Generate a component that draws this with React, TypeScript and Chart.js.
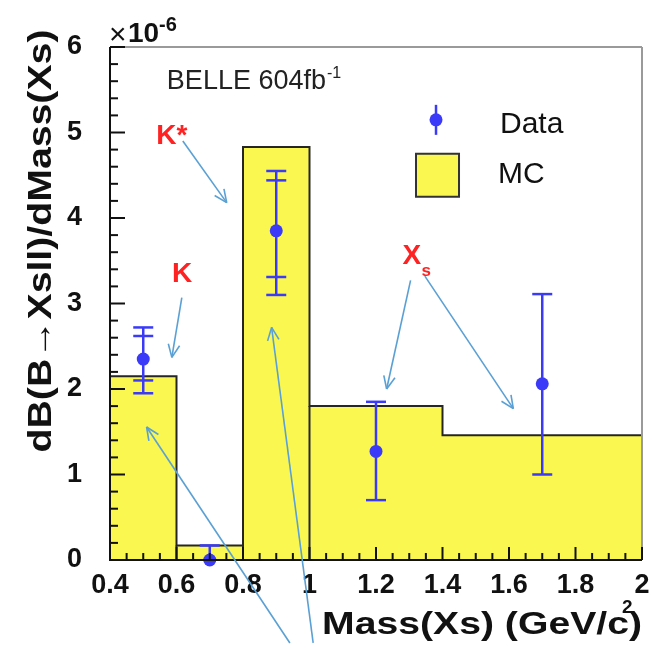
import React, { useEffect, useRef } from 'react';
import { Chart, registerables } from 'chart.js';

Chart.register(...registerables);

// Histogram (MC) bins: edges and bin contents, in units of 1e-6
const binEdges = [0.4, 0.6, 0.8, 1.0, 1.4, 2.0];
const mcValues = [2.15, 0.17, 4.83, 1.8, 1.46];
// bin edges whose vertical line is drawn all the way down to zero
const closedEdges = [0.6, 0.8, 1.0];

// Measured points with statistical (inner) and total (outer) errors
const dataX = [0.5, 0.7, 0.9, 1.2, 1.7];
const dataY = [2.35, 0.0, 3.85, 1.27, 2.06];
const statUp = [0.27, 0, 0.59, 0, 0];
const statDown = [0.25, 0, 0.54, 0, 0];
const totalUp = [0.37, 0.17, 0.7, 0.58, 1.05];
const totalDown = [0.4, 0, 0.75, 0.57, 1.06];

// Axis ticks
const xTicks = [0.4, 0.6, 0.8, 1.0, 1.2, 1.4, 1.6, 1.8, 2.0];
const xTickLabels = ['0.4', '0.6', '0.8', '1', '1.2', '1.4', '1.6', '1.8', '2'];
const yTicks = [0, 1, 2, 3, 4, 5, 6];
const yTickLabels = ['0', '1', '2', '3', '4', '5', '6'];

// Annotation labels (data coordinates) and arrows [x0, y0, x1, y1]
const noteLabels = [
  { text: 'K*', sub: '', x: 0.586, y: 4.96 },
  { text: 'K', sub: '', x: 0.617, y: 3.34 },
  { text: 'X', sub: 's', x: 1.308, y: 3.55 },
];
const noteArrows = [
  [0.619, 4.9, 0.751, 4.18],
  [0.616, 3.07, 0.586, 2.37],
  [1.304, 3.27, 1.232, 2.0],
  [1.347, 3.32, 1.613, 1.77],
  [0.941, -0.97, 0.51, 1.556],
  [1.011, -0.97, 0.886, 2.72],
];

const FONT = '"Liberation Sans", Arial, Helvetica, sans-serif';
const YELLOW = '#faf850';
const EDGE = '#262626';
const BLUE = '#3a3af8';
const ARROW = '#5aa0d4';
const RED = '#ff2222';

function histogramOutline() {
  const pts: { x: number; y: number }[] = [{ x: binEdges[0], y: 0 }];
  mcValues.forEach((v, i) => {
    pts.push({ x: binEdges[i], y: v });
    pts.push({ x: binEdges[i + 1], y: v });
  });
  pts.push({ x: binEdges[binEdges.length - 1], y: 0 });
  return pts;
}

function innerEdges() {
  const pts: { x: number; y: number | null }[] = [];
  closedEdges.forEach((e) => {
    const i = binEdges.indexOf(e);
    const h = Math.min(mcValues[i - 1], mcValues[i]);
    pts.push({ x: e, y: 0 }, { x: e, y: h }, { x: e, y: null });
  });
  return pts;
}

const rootStyle = {
  id: 'rootStyle',
  afterDatasetsDraw(chart: any) {
    const { ctx, chartArea: a } = chart;
    const xs = chart.scales.x;
    const ys = chart.scales.y;
    const px = (v: number) => xs.getPixelForValue(v);
    const py = (v: number) => ys.getPixelForValue(v);
    const seg = (x0: number, y0: number, x1: number, y1: number) => {
      ctx.beginPath();
      ctx.moveTo(x0, y0);
      ctx.lineTo(x1, y1);
      ctx.stroke();
    };
    ctx.save();

    // error bars
    ctx.strokeStyle = BLUE;
    ctx.lineWidth = 2.5;
    const cap = 10;
    dataX.forEach((xv, i) => {
      const cx = px(xv);
      const hi = dataY[i] + totalUp[i];
      const lo = Math.max(0, dataY[i] - totalDown[i]);
      seg(cx, py(hi), cx, py(lo));
      if (totalUp[i] > 0) seg(cx - cap, py(hi), cx + cap, py(hi));
      if (totalDown[i] > 0) seg(cx - cap, py(lo), cx + cap, py(lo));
      if (statUp[i] > 0) seg(cx - cap, py(dataY[i] + statUp[i]), cx + cap, py(dataY[i] + statUp[i]));
      if (statDown[i] > 0) seg(cx - cap, py(dataY[i] - statDown[i]), cx + cap, py(dataY[i] - statDown[i]));
    });

    // frame: grey top/right, black axes
    ctx.lineWidth = 2;
    ctx.strokeStyle = '#9a9a9a';
    seg(a.left, a.top, a.right, a.top);
    seg(a.right, a.top, a.right, a.bottom);
    ctx.strokeStyle = '#111';
    seg(a.left, a.top, a.left, a.bottom + 1);
    seg(a.left - 1, a.bottom, a.right, a.bottom);

    // inward ticks
    ctx.lineWidth = 2;
    for (let i = 0; i <= 30; i++) {
      const v = i * 0.2;
      if (v > 6.0001) break;
      const major = i % 5 === 0;
      const yy = py(v);
      seg(a.left, yy, a.left + (major ? 15 : 8), yy);
    }
    for (let i = 0; i <= 32; i++) {
      const v = 0.4 + i * 0.05;
      const major = i % 4 === 0;
      const xx = px(v);
      seg(xx, a.bottom, xx, a.bottom - (major ? 13 : 7));
    }

    // exponent label
    ctx.fillStyle = '#111';
    ctx.textBaseline = 'alphabetic';
    ctx.textAlign = 'left';
    ctx.font = `30px ${FONT}`;
    ctx.fillText('\u00d7', a.left - 1, a.top - 3);
    ctx.font = `bold 28px ${FONT}`;
    ctx.fillText('10', a.left + 18, a.top - 5);
    ctx.font = `bold 20px ${FONT}`;
    ctx.fillText('-6', a.left + 49, a.top - 16);

    // axis titles
    ctx.font = `bold 32px ${FONT}`;
    const xTitle = 'Mass(Xs) (GeV/c)';
    const xw = ctx.measureText(xTitle).width;
    ctx.save();
    ctx.translate(a.right, 634);
    ctx.scale(320 / xw, 1);
    ctx.textAlign = 'right';
    ctx.fillText(xTitle, 0, 0);
    ctx.restore();
    ctx.font = `bold 19px ${FONT}`;
    ctx.textAlign = 'left';
    ctx.fillText('2', a.right - 20, 613);

    ctx.font = `bold 34px ${FONT}`;
    const yTitle = 'dB(B\u2192Xsll)/dMass(Xs)';
    const yw = ctx.measureText(yTitle).width;
    ctx.save();
    ctx.translate(51, 241);
    ctx.rotate(-Math.PI / 2);
    ctx.scale(423 / yw, 1);
    ctx.textAlign = 'center';
    ctx.fillText(yTitle, 0, 0);
    ctx.restore();

    // experiment label
    ctx.fillStyle = '#222';
    ctx.textAlign = 'left';
    ctx.font = `27px ${FONT}`;
    const belle = 'BELLE 604fb';
    ctx.fillText(belle, px(0.571), py(5.51));
    const bw = ctx.measureText(belle).width;
    ctx.font = `16px ${FONT}`;
    ctx.fillText('-1', px(0.571) + bw + 1, py(5.51) - 11);

    // legend
    const lx = px(1.3805);
    const ly = py(5.148);
    ctx.strokeStyle = BLUE;
    ctx.fillStyle = BLUE;
    ctx.lineWidth = 2.5;
    seg(lx, ly - 15, lx, ly + 15);
    ctx.beginPath();
    ctx.arc(lx, ly, 6.5, 0, Math.PI * 2);
    ctx.fill();
    const bx = px(1.385);
    const by = py(4.5);
    ctx.fillStyle = YELLOW;
    ctx.strokeStyle = '#333';
    ctx.lineWidth = 2;
    ctx.beginPath();
    ctx.rect(bx - 21.5, by - 21.5, 43, 43);
    ctx.fill();
    ctx.stroke();
    ctx.fillStyle = '#111';
    ctx.font = `30px ${FONT}`;
    ctx.fillText('Data', px(1.573), py(4.996));
    ctx.fillText('MC', px(1.567), py(4.412));

    // annotations
    ctx.strokeStyle = ARROW;
    ctx.lineWidth = 1.6;
    noteArrows.forEach(([x0, y0, x1, y1]) => {
      const X0 = px(x0), Y0 = py(y0), X1 = px(x1), Y1 = py(y1);
      seg(X0, Y0, X1, Y1);
      const ang = Math.atan2(Y1 - Y0, X1 - X0);
      const L = 14, w = 0.42;
      seg(X1, Y1, X1 - L * Math.cos(ang - w), Y1 - L * Math.sin(ang - w));
      seg(X1, Y1, X1 - L * Math.cos(ang + w), Y1 - L * Math.sin(ang + w));
    });
    ctx.fillStyle = RED;
    ctx.textAlign = 'center';
    ctx.textBaseline = 'middle';
    noteLabels.forEach((l) => {
      ctx.font = `bold 28px ${FONT}`;
      ctx.fillText(l.text, px(l.x), py(l.y));
      if (l.sub) {
        const w = ctx.measureText(l.text).width;
        ctx.font = `bold 17px ${FONT}`;
        ctx.fillText(l.sub, px(l.x) + w / 2 + 5, py(l.y) + 15);
      }
    });

    ctx.restore();
  },
};

export default function App() {
  const ref = useRef<HTMLCanvasElement | null>(null);

  useEffect(() => {
    if (!ref.current) return;
    const chart = new Chart(ref.current, {
      type: 'line',
      data: {
        datasets: [
          {
            label: 'MC',
            data: histogramOutline(),
            borderColor: EDGE,
            borderWidth: 2,
            backgroundColor: YELLOW,
            fill: 'origin',
            pointRadius: 0,
            tension: 0,
            order: 3,
          },
          {
            label: 'edges',
            data: innerEdges(),
            borderColor: EDGE,
            borderWidth: 2,
            fill: false,
            pointRadius: 0,
            spanGaps: false,
            order: 2,
          },
          {
            label: 'Data',
            data: dataX.map((x, i) => ({ x, y: dataY[i] })),
            showLine: false,
            pointRadius: 6.5,
            pointBorderWidth: 0,
            pointBackgroundColor: BLUE,
            borderColor: BLUE,
            clip: false,
            order: 1,
          },
        ],
      },
      options: {
        animation: false,
        responsive: false,
        devicePixelRatio: 1,
        events: [],
        layout: { padding: { top: 47, right: 0, left: 0, bottom: 0 } },
        plugins: { legend: { display: false }, tooltip: { enabled: false } },
        scales: {
          x: {
            type: 'linear',
            min: 0.4,
            max: 2.0,
            afterFit: (s: any) => {
              s.height = 88;
              s.paddingLeft = 0;
              s.paddingRight = 10;
            },
            afterBuildTicks: (s: any) => {
              s.ticks = xTicks.map((v) => ({ value: v }));
            },
            grid: { display: false },
            border: { display: false },
            ticks: {
              autoSkip: false,
              maxRotation: 0,
              padding: 1,
              color: '#111',
              font: { family: FONT, size: 27, weight: 'bold' },
              callback: (v: any) => {
                const i = xTicks.findIndex((t) => Math.abs(t - v) < 1e-6);
                return i >= 0 ? xTickLabels[i] : '';
              },
            },
          },
          y: {
            type: 'linear',
            min: 0,
            max: 6,
            afterFit: (s: any) => {
              s.width = 110;
              s.paddingTop = 0;
              s.paddingBottom = 0;
            },
            afterBuildTicks: (s: any) => {
              s.ticks = yTicks.map((v) => ({ value: v }));
            },
            grid: { display: false },
            border: { display: false },
            ticks: {
              padding: 20,
              color: '#111',
              font: { family: FONT, size: 27, weight: 'bold' },
              callback: (v: any) => {
                const i = yTicks.findIndex((t) => Math.abs(t - v) < 1e-6);
                return i >= 0 ? yTickLabels[i] : '';
              },
            },
          },
        },
      },
      plugins: [rootStyle],
    } as any);
    return () => chart.destroy();
  }, []);

  return (
    <div style={{ position: 'fixed', left: 0, top: 0, width: 652, height: 648, background: '#fff' }}>
      <canvas ref={ref} width={652} height={648} />
    </div>
  );
}
